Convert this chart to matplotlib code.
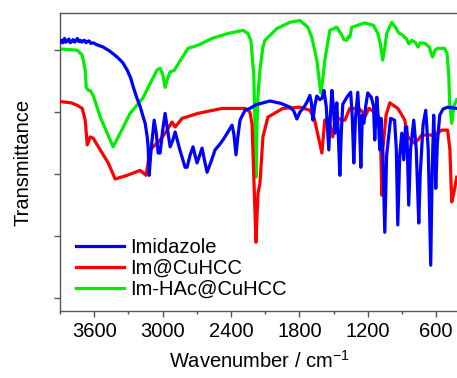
import matplotlib
matplotlib.use("Agg")
import matplotlib.pyplot as plt
from matplotlib.ticker import MultipleLocator

plt.rcParams['font.family'] = ['Liberation Sans', 'DejaVu Sans']
plt.rcParams['mathtext.fontset'] = 'custom'
plt.rcParams['mathtext.rm'] = 'Liberation Sans'
plt.rcParams['mathtext.default'] = 'regular'

# ---- data (wavenumber in cm^-1, transmittance in arbitrary offset units) ----
im_wn = [3898, 3885, 3872, 3860, 3848, 3835, 3822, 3810, 3798, 3785, 3772, 3760,
         3748, 3735, 3722, 3710, 3698, 3685, 3672, 3660, 3645, 3630, 3609, 3580,
         3521, 3460, 3399, 3350, 3311, 3280, 3258, 3230, 3197, 3175, 3153, 3135,
         3127, 3118, 3105, 3095, 3074, 3055, 3039, 3022, 3000, 2978, 2955, 2934,
         2910, 2890, 2850, 2803, 2785, 2760, 2733, 2715, 2698, 2675, 2654, 2630,
         2610, 2575, 2540, 2490, 2453, 2420, 2391, 2375, 2356, 2340, 2321, 2277,
         2234, 2180, 2120, 2058, 1960, 1883, 1850, 1822, 1796, 1760, 1734, 1708,
         1695, 1682, 1665, 1647, 1620, 1600, 1585, 1565, 1542, 1528, 1515, 1502,
         1489, 1480, 1472, 1458, 1445, 1432, 1419, 1380, 1350, 1336, 1323, 1308,
         1288, 1275, 1261, 1248, 1235, 1218, 1200, 1170, 1150, 1139, 1128, 1121,
         1108, 1095, 1085, 1068, 1051, 1035, 1000, 965, 950, 937, 920, 902, 885,
         870, 858, 841, 825, 797, 775, 753, 740, 715, 692, 670, 648, 636, 622,
         613, 604, 590, 569, 540, 499, 460, 420]
im_t = [4.12, 4.16, 4.12, 4.19, 4.13, 4.15, 4.18, 4.12, 4.14, 4.17, 4.13, 4.15,
        4.19, 4.14, 4.16, 4.13, 4.15, 4.16, 4.12, 4.14, 4.15, 4.11, 4.12, 4.09,
        4.05, 3.98, 3.89, 3.80, 3.68, 3.55, 3.41, 3.25, 3.09, 2.95, 2.82, 2.60,
        2.44, 1.98, 2.30, 2.50, 2.87, 2.65, 2.34, 2.34, 2.70, 2.98, 2.70, 2.44,
        2.55, 2.68, 2.40, 2.11, 2.11, 2.30, 2.44, 2.30, 2.18, 2.30, 2.42, 2.20,
        2.03, 2.20, 2.39, 2.50, 2.60, 2.70, 2.79, 2.65, 2.31, 2.60, 2.87, 3.03,
        3.06, 3.12, 3.15, 3.18, 3.14, 3.08, 3.02, 2.89, 3.00, 3.08, 3.16, 3.27,
        3.15, 2.87, 3.10, 3.26, 3.20, 3.23, 3.35, 3.10, 2.39, 2.95, 3.35, 3.10,
        2.66, 2.95, 3.15, 2.60, 1.98, 2.70, 3.13, 3.25, 3.32, 2.90, 2.18, 2.90,
        3.32, 2.90, 2.11, 2.95, 2.82, 3.10, 3.31, 3.24, 3.10, 2.55, 3.00, 3.24,
        2.90, 2.39, 2.90, 2.30, 1.06, 2.30, 2.90, 2.87, 2.40, 1.18, 2.30, 2.66,
        2.23, 2.76, 2.76, 1.50, 2.40, 2.87, 2.40, 1.21, 2.00, 2.80, 3.03, 2.40,
        0.53, 2.00, 2.95, 2.50, 1.77, 2.50, 2.95, 3.05, 3.08, 3.07, 3.06]

cu_wn = [3898, 3800, 3749, 3705, 3679, 3661, 3635, 3609, 3547, 3477, 3416, 3311,
         3197, 3145, 3109, 3066, 3022, 2978, 2917, 2890, 2829, 2689, 2479, 2277,
         2234, 2215, 2207, 2190, 2181, 2170, 2163, 2146, 2120, 2076, 1945, 1796,
         1708, 1670, 1647, 1603, 1577, 1550, 1525, 1507, 1480, 1428, 1401, 1358,
         1280, 1245, 1226, 1190, 1120, 1095, 1085, 1077, 1068, 1040, 1007, 937,
         900, 876, 850, 790, 760, 727, 613, 552, 500, 480, 464, 445, 420]
cu_t = [3.17, 3.15, 3.11, 3.06, 2.87, 2.47, 2.60, 2.58, 2.39, 2.18, 1.92, 1.98,
        2.06, 1.98, 2.39, 2.47, 2.55, 2.66, 2.84, 2.76, 2.90, 2.98, 3.06, 3.06,
        3.00, 2.80, 2.34, 1.40, 0.90, 1.40, 1.69, 1.85, 2.60, 2.92, 3.06, 3.08,
        3.03, 2.90, 2.71, 2.34, 2.87, 2.90, 2.75, 2.60, 2.92, 2.87, 2.87, 3.06,
        3.06, 3.00, 2.92, 3.06, 2.98, 2.85, 2.30, 1.66, 2.40, 2.95, 3.15, 3.06,
        2.95, 2.87, 2.60, 2.50, 2.55, 2.63, 2.63, 2.71, 2.71, 2.40, 1.55, 1.70,
        1.95]

hac_wn = [3898, 3820, 3749, 3705, 3679, 3670, 3650, 3635, 3609, 3547, 3486, 3434,
          3372, 3285, 3171, 3127, 3048, 3022, 2998, 2978, 2955, 2934, 2900, 2777,
          2689, 2566, 2426, 2295, 2251, 2225, 2216, 2200, 2190, 2181, 2172, 2165,
          2158, 2146, 2120, 2102, 1997, 1883, 1796, 1726, 1690, 1647, 1625, 1612,
          1597, 1577, 1533, 1472, 1430, 1410, 1384, 1370, 1358, 1340, 1226, 1150,
          1112, 1090, 1069, 1050, 1034, 990, 950, 930, 900, 860, 840, 815, 780,
          760, 740, 701, 660, 645, 631, 610, 587, 526, 505, 490, 482, 464, 445, 420]
hac_t = [4.02, 4.01, 4.00, 3.92, 3.68, 3.40, 3.35, 3.35, 3.27, 2.92, 2.66, 2.44,
         2.66, 2.98, 3.23, 3.40, 3.68, 3.71, 3.60, 3.40, 3.55, 3.65, 3.67, 4.03,
         4.08, 4.19, 4.27, 4.32, 4.27, 4.15, 3.95, 3.60, 2.80, 1.95, 2.80, 3.20,
         3.40, 3.68, 4.05, 4.16, 4.35, 4.45, 4.48, 4.37, 4.20, 3.84, 3.50, 3.31,
         3.50, 3.84, 4.32, 4.37, 4.25, 4.17, 4.16, 4.22, 4.21, 4.37, 4.44, 4.40,
         4.27, 4.10, 3.84, 4.05, 4.27, 4.45, 4.35, 4.28, 4.25, 4.18, 4.10, 4.16,
         4.12, 4.05, 4.12, 4.11, 4.05, 3.95, 3.89, 4.00, 4.03, 4.03, 3.95, 3.60,
         3.15, 2.82, 3.10, 3.20]

labels = ["Imidazole", "Im@CuHCC", "Im-HAc@CuHCC"]
colors = ["#0000ff", "#ff0000", "#00ee00"]

xticks = [3600, 3000, 2400, 1800, 1200, 600]

# ---- figure ----
fig = plt.figure(figsize=(4.57, 3.78), dpi=100)
ax = fig.add_axes([60 / 457, 67 / 378, 399 / 457, 298 / 378])

ax.plot(hac_wn, hac_t, color=colors[2], lw=2.3, label=labels[2], zorder=2)
ax.plot(cu_wn, cu_t, color=colors[1], lw=2.3, label=labels[1], zorder=3)
ax.plot(im_wn, im_t, color=colors[0], lw=2.3, label=labels[0], zorder=4)

ax.set_xlim(3900, 400)
ax.set_ylim(-0.21, 4.6)
ax.set_xticks(xticks)
ax.set_xticklabels([str(v) for v in xticks])
ax.xaxis.set_minor_locator(MultipleLocator(300))
ax.set_yticks([0, 1, 2, 3, 4])
ax.set_yticklabels([])

for s in ax.spines.values():
    s.set_color("#555555")
    s.set_linewidth(1.0)
ax.tick_params(axis="both", which="major", direction="out", length=4,
               width=1.0, color="#555555", labelsize=14.5, pad=4)
ax.tick_params(axis="x", which="minor", direction="out", length=2.5,
               width=1.0, color="#555555")

ax.set_xlabel("Wavenumber / cm$^{-1}$", fontsize=14.5, labelpad=6)
ax.set_ylabel("Transmittance", fontsize=14.5, labelpad=12)

handles, labs = ax.get_legend_handles_labels()
order = [2, 1, 0]
ax.legend([handles[i] for i in order], [labs[i] for i in order],
          loc="lower left", frameon=False, fontsize=14.5,
          handlelength=2.4, handletextpad=0.3, labelspacing=0.1,
          borderaxespad=0.2, bbox_to_anchor=(0.01, 0.0))

fig.savefig("out.png", dpi=100)
